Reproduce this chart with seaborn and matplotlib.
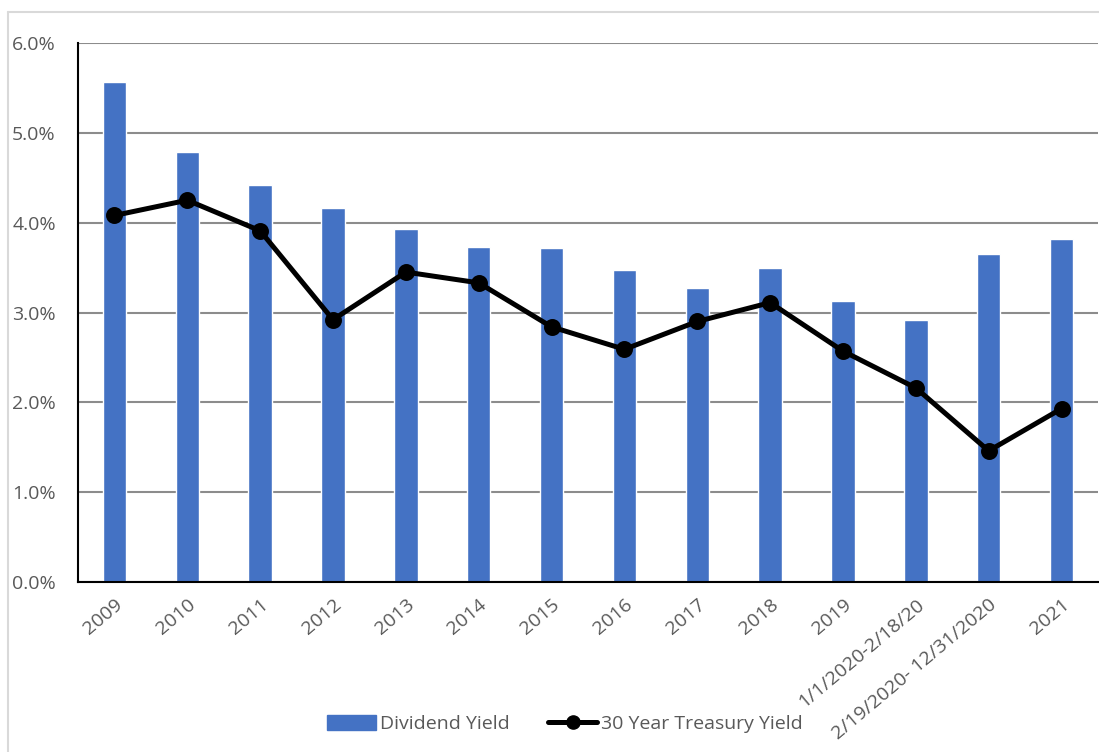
import matplotlib
matplotlib.use("Agg")
import matplotlib.pyplot as plt
from matplotlib.lines import Line2D
from matplotlib.ticker import PercentFormatter, FixedLocator
import seaborn as sns
import pandas as pd

periods = ["2009", "2010", "2011", "2012", "2013", "2014", "2015", "2016",
           "2017", "2018", "2019", "1/1/2020-2/18/20", "2/19/2020- 12/31/2020", "2021"]
dividend_yield = [5.57, 4.79, 4.42, 4.16, 3.93, 3.73, 3.72, 3.47,
                  3.27, 3.49, 3.13, 2.92, 3.65, 3.82]
treasury_yield = [4.08, 4.25, 3.91, 2.92, 3.45, 3.33, 2.84, 2.59,
                  2.90, 3.11, 2.57, 2.16, 1.46, 1.93]
y_ticks = [0, 1, 2, 3, 4, 5, 6]

df = pd.DataFrame({"period": periods,
                   "Dividend Yield": dividend_yield,
                   "30 Year Treasury Yield": treasury_yield})

sns.set_theme(style="white")
plt.rcParams["font.family"] = ["Open Sans", "DejaVu Sans"]

text_color = "#595959"
bar_color = "#4472C4"
grid_color = "#8c8c8c"
fs = 14

fig = plt.figure(figsize=(10.99, 7.52), dpi=100)
ax = fig.add_axes([78 / 1099, 1 - 582 / 752, (1098 - 78) / 1099, (582 - 43) / 752])

sns.barplot(data=df, x="period", y="Dividend Yield", color=bar_color,
            width=0.32, saturation=1, ax=ax, zorder=2)
sns.pointplot(data=df, x="period", y="30 Year Treasury Yield", color="black",
              markers="o", markersize=9.5, linewidth=3.6, ax=ax, zorder=3)

ax.set_ylim(0, 6)
ax.set_xlim(-0.5, len(periods) - 0.5)
ax.yaxis.set_major_locator(FixedLocator(y_ticks))
ax.yaxis.set_major_formatter(PercentFormatter(decimals=1))
ax.grid(axis="y", color=grid_color, linewidth=1.5, zorder=0)
ax.set_axisbelow(True)
ax.set_xlabel("")
ax.set_ylabel("")

for side in ["top", "right"]:
    ax.spines[side].set_visible(False)
for side in ["left", "bottom"]:
    ax.spines[side].set_color("black")
    ax.spines[side].set_linewidth(1.5)
    ax.spines[side].set_visible(True)

ax.tick_params(axis="y", length=0, pad=16, labelsize=fs, labelcolor=text_color)
ax.tick_params(axis="x", which="major", length=0, pad=10, labelsize=fs, labelcolor=text_color)
ax.set_xticks([i - 0.5 for i in range(len(periods) + 1)], minor=True)
ax.tick_params(axis="x", which="minor", length=6, width=1.5, color="black", direction="out")
for lbl in ax.get_xticklabels():
    lbl.set_rotation(40)
    lbl.set_ha("right")
    lbl.set_rotation_mode("anchor")
for lbl in ax.get_yticklabels():
    lbl.set_ha("right")

handles = [plt.Rectangle((0, 0), 1, 1, color=bar_color),
           Line2D([0], [0], color="black", linewidth=3.6, marker="o", markersize=9.5)]
fig.legend(handles, ["Dividend Yield", "30 Year Treasury Yield"], loc="center",
           bbox_to_anchor=(565 / 1099, 1 - 724 / 752), ncol=2, frameon=False,
           fontsize=fs, labelcolor=text_color, handlelength=2.5, handleheight=0.8,
           handletextpad=0.2, columnspacing=2.0)

# thin frame around the chart area
fig.add_artist(Line2D([8 / 1099, 8 / 1099], [0, 1 - 12 / 752], color="#d9d9d9",
                      linewidth=1.5, transform=fig.transFigure))
fig.add_artist(Line2D([8 / 1099, 1], [1 - 12 / 752, 1 - 12 / 752], color="#d9d9d9",
                      linewidth=1.5, transform=fig.transFigure))

fig.savefig("out.png", dpi=100)
